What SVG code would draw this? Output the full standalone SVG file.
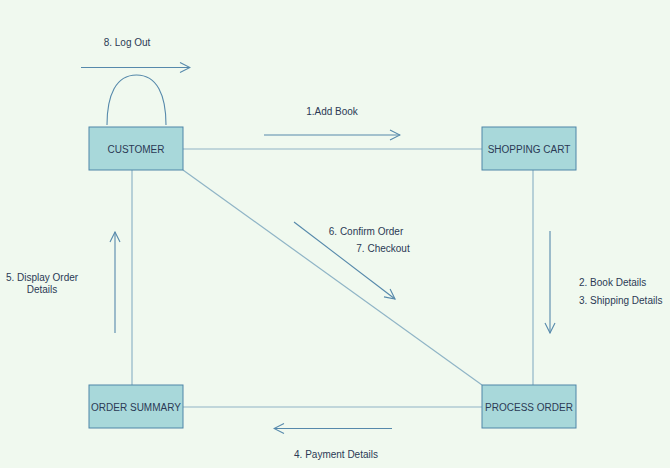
<svg xmlns="http://www.w3.org/2000/svg" width="670" height="468" viewBox="0 0 670 468">
<defs>
<style>
.box{fill:#a8d8da;stroke:#4e86a8;stroke-width:1}
.t{font-family:"Liberation Sans",Arial,sans-serif;font-size:10px;fill:#2b3a55}
.c{text-anchor:middle;dominant-baseline:central}
.l{dominant-baseline:central}
.edge{fill:none;stroke:#8fb4c6;stroke-width:1.2}
.msg{fill:none;stroke:#5689ab;stroke-width:1.1}
</style>
<marker id="open" viewBox="0 0 12 12" refX="11" refY="6" markerWidth="12" markerHeight="12" markerUnits="userSpaceOnUse" orient="auto">
<path d="M1,1 L11,6 L1,11" fill="none" stroke="#5689ab" stroke-width="1.1"/>
</marker>
</defs>
<rect width="670" height="468" fill="#f0f9ef"/>
<g id="connectors">
<line class="edge" x1="183" y1="149" x2="482" y2="149"/>
<line class="edge" x1="533" y1="170" x2="533" y2="385"/>
<line class="edge" x1="132" y1="170" x2="132" y2="385"/>
<line class="edge" x1="183" y1="407" x2="482" y2="407"/>
<line class="edge" x1="183" y1="170" x2="482" y2="385"/>
<path class="msg" d="M107,125 C107,95 116,75 136.5,75 C157,75 166,95 166,125"/>
<line class="msg" x1="81" y1="67.5" x2="190" y2="67.5" marker-end="url(#open)"/>
<line class="msg" x1="264" y1="135" x2="400" y2="135" marker-end="url(#open)"/>
<line class="msg" x1="294" y1="222" x2="395" y2="299" marker-end="url(#open)"/>
<line class="msg" x1="115" y1="333" x2="115" y2="232" marker-end="url(#open)"/>
<line class="msg" x1="550" y1="231" x2="550" y2="333" marker-end="url(#open)"/>
<line class="msg" x1="392" y1="428.5" x2="274" y2="428.5" marker-end="url(#open)"/>
<text class="t c" x="127" y="42">8. Log Out</text>
<text class="t c" x="332" y="111">1.Add Book</text>
<text class="t c" x="366" y="231">6. Confirm Order</text>
<text class="t c" x="383" y="248">7. Checkout</text>
<text class="t c" x="42" y="277">5. Display Order</text>
<text class="t c" x="42" y="289">Details</text>
<text class="t l" x="579" y="282.5">2. Book Details</text>
<text class="t l" x="579" y="300">3. Shipping Details</text>
<text class="t c" x="336" y="454.5">4. Payment Details</text>
</g>
<g id="customer">
<rect class="box" x="89" y="127" width="94" height="43"/>
<text class="t c" x="136" y="149">CUSTOMER</text>
</g>
<g id="shopping-cart">
<rect class="box" x="482" y="127" width="94" height="43"/>
<text class="t c" x="529" y="149">SHOPPING CART</text>
</g>
<g id="order-summary">
<rect class="box" x="89" y="385" width="94" height="43"/>
<text class="t c" x="136" y="407">ORDER SUMMARY</text>
</g>
<g id="process-order">
<rect class="box" x="482" y="385" width="94" height="43"/>
<text class="t c" x="529" y="407">PROCESS ORDER</text>
</g>
</svg>
